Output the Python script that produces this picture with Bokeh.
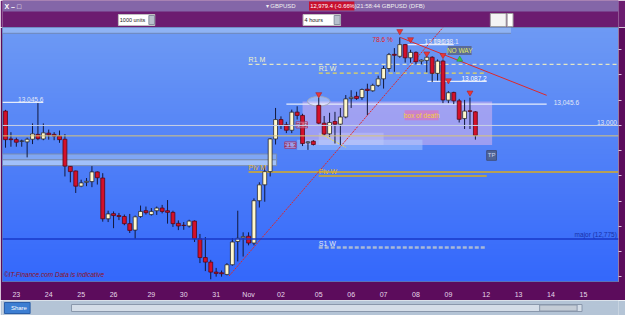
import numpy as np
from bokeh.plotting import figure
from bokeh.layouts import column
from bokeh.models import Range1d, Span, FixedTicker, CustomJSTickFormatter, ColumnDataSource
from bokeh.embed import file_html
from bokeh.resources import INLINE
from bokeh.core.properties import value

FONT = "Liberation Sans"

# ---------------- data (GBPUSD x10000, 4-hour candles) ----------------
OPEN = [13028.4, 12973.3, 12971.9, 12968.5, 12967.5, 12972.7, 12982.3, 12973.3, 12984.8, 12982.3,
        12979.0, 12972.7, 12918.9, 12909.9, 12879.8, 12887.4, 12888.8, 12908.0, 12895.9, 12815.2,
        12825.4, 12821.6, 12819.7, 12805.6, 12792.8, 12819.7, 12831.2, 12823.5, 12831.2, 12836.4,
        12831.2, 12827.9, 12806.2, 12802.4, 12801.0, 12810.6, 12775.5, 12738.4, 12729.4, 12709.6,
        12708.3, 12705.0, 12724.2, 12770.3, 12777.4, 12780.7, 12767.2, 12851.0, 12882.4, 12908.6,
        12973.3, 13011.7, 13001.5, 12990.5, 13026.4, 13019.9, 12965.6, 12968.8, 13039.9, 13004.6,
        12983.4, 13007.8, 13002.6, 13016.8, 13053.3, 13057.7, 13055.2, 13071.8, 13068.7, 13079.4,
        13092.3, 13112.8, 13140.9, 13137.0, 13160.1, 13134.0, 13144.7, 13127.4, 13128.8, 13135.1,
        13103.2, 13127.4, 13050.1, 13065.4, 13048.7, 13013.6, 13028.9, 13027.0]
HIGH = [13030.9, 12986.7, 12975.8, 12971.9, 12975.8, 13004.0, 13044.3, 13004.0, 12991.9, 12986.7,
        12990.0, 12982.9, 12919.5, 12910.5, 12892.6, 12895.9, 12919.5, 12909.0, 12905.5, 12831.2,
        12829.8, 12826.8, 12823.5, 12824.8, 12821.6, 12841.4, 12839.4, 12836.4, 12839.4, 12842.7,
        12852.3, 12831.2, 12812.0, 12808.7, 12813.3, 12812.0, 12785.1, 12778.8, 12733.8, 12717.9,
        12712.7, 12727.5, 12776.8, 12831.2, 12788.4, 12788.4, 12855.6, 12887.4, 12919.5, 12974.5,
        13034.7, 13018.0, 13007.2, 13031.4, 13038.0, 13023.2, 12968.5, 12970.8, 13055.2, 13018.8,
        13025.1, 13027.0, 13034.7, 13060.2, 13069.8, 13066.8, 13073.1, 13082.7, 13082.7, 13098.6,
        13117.8, 13143.6, 13153.2, 13174.3, 13161.4, 13149.9, 13146.6, 13130.7, 13138.4, 13137.0,
        13130.7, 13130.7, 13067.9, 13066.8, 13052.6, 13050.6, 13055.2, 13028.4]
LOW = [12956.0, 12957.9, 12957.9, 12957.9, 12936.8, 12963.1, 12970.8, 12970.8, 12971.9, 12970.8,
       12965.6, 12899.0, 12887.4, 12866.3, 12877.8, 12879.8, 12877.8, 12883.0, 12809.5, 12808.7,
       12796.6, 12812.6, 12802.4, 12787.0, 12775.5, 12817.2, 12823.5, 12821.6, 12822.9, 12826.0,
       12805.6, 12799.1, 12792.8, 12793.4, 12797.9, 12769.2, 12727.5, 12711.6, 12695.4, 12700.6,
       12700.6, 12703.1, 12722.3, 12730.8, 12740.4, 12762.6, 12762.6, 12837.5, 12849.0, 12899.0,
       12962.3, 12993.0, 12984.8, 12984.8, 13011.7, 12959.2, 12951.6, 12960.4, 13002.6, 12980.4,
       12977.1, 12964.2, 12961.2, 13014.2, 13034.7, 13050.6, 13050.6, 13020.7, 13066.8, 13076.4,
       13073.1, 13106.3, 13106.3, 13134.0, 13124.4, 13124.4, 13121.1, 13121.1, 13105.2, 13086.0,
       13089.0, 13044.3, 13044.3, 13042.4, 13005.9, 12993.0, 12993.0, 12971.9]
CLOSE = [12971.9, 12971.9, 12966.9, 12969.4, 12972.7, 12983.4, 12973.8, 12985.4, 12981.5, 12979.0,
         12971.9, 12919.5, 12908.6, 12879.8, 12886.3, 12889.4, 12908.0, 12896.5, 12815.2, 12824.8,
         12821.6, 12819.7, 12805.6, 12792.2, 12819.1, 12829.8, 12827.3, 12829.8, 12836.4, 12829.8,
         12827.9, 12805.6, 12801.0, 12801.8, 12810.6, 12775.5, 12738.4, 12729.4, 12709.6, 12707.0,
         12706.4, 12724.2, 12769.2, 12776.5, 12779.9, 12767.2, 12851.0, 12882.4, 12908.6, 12973.3,
         13011.7, 13000.7, 12990.5, 13026.4, 13019.9, 12964.2, 12967.5, 12962.3, 13004.6, 12982.9,
         13005.9, 13002.6, 13016.8, 13052.6, 13055.8, 13053.3, 13071.2, 13069.3, 13079.4, 13092.3,
         13112.8, 13140.3, 13139.0, 13160.1, 13134.0, 13144.7, 13126.3, 13129.4, 13135.1, 13103.2,
         13127.4, 13050.6, 13064.8, 13048.7, 13012.2, 13028.4, 13028.0, 12980.4]

DAY_TICKS = [2, 8, 14, 20, 27, 33, 39, 45, 51, 58, 64, 70, 76, 82, 89, 95, 101, 107]
DAY_LABELS = ["23", "24", "25", "26", "29", "30", "31", "Nov", "02", "05",
              "06", "07", "08", "09", "12", "13", "14", "15"]
PRICE_TICKS = [12700, 12750, 12800, 12850, 12900, 12950, 13000, 13050, 13100, 13150]

MONTH_LEVEL_NAMES = ["R1 M", "Piv M"]
MONTH_LEVEL_PRICES = [13121.1, 12907.9]
WEEK_LEVEL_NAMES = ["R1 W", "Piv W", "S1 W"]
WEEK_LEVEL_PRICES = [13103.8, 12899.7, 12758.2]
MAJOR_LEVEL = 12775.0
ROUND_LEVEL = 13000.0
LAST_PRICE = 12979.4
MARK_LEVELS = [13045.6, 13087.2, 13160.1]

ALERT_X = [58, 73, 75, 78, 81, 82, 86]
ALERT_Y = [13061.6, 13186.4, 13170.4, 13142.2, 13139.0, 13089.0, 13064.8]

# ---------------- main chart ----------------
X0, X1 = -0.56, 113.5
Y0, Y1 = 12691.0, 13194.0

p = figure(width=625, height=273, x_range=Range1d(X0, X1), y_range=Range1d(Y0, Y1),
           y_axis_location="right", output_backend="svg", toolbar_location=None,
           min_border_left=2, min_border_right=7, min_border_top=0, min_border_bottom=11)
p.border_fill_color = "#5c0c5c"
p.outline_line_color = "#6878a0"
p.grid.visible = False

# background gradient
n = 96
t = np.linspace(0.0, 1.0, n)[:, None]
c_bot = np.array([52, 104, 252])
c_top = np.array([110, 154, 244])
cols = (c_bot * (1 - t) + c_top * t).astype(np.uint8)
img = np.empty((n, 1), dtype=np.uint32)
view = img.view(dtype=np.uint8).reshape((n, 1, 4))
view[:, 0, 0] = cols[:, 0]
view[:, 0, 1] = cols[:, 1]
view[:, 0, 2] = cols[:, 2]
view[:, 0, 3] = 255
p.image_rgba(image=[img], x=X0, y=Y0, dw=X1 - X0, dh=Y1 - Y0)

# top strip of the chart window
p.quad(left=[X0], right=[93.6], bottom=[13182.5], top=[Y1], fill_color="#8fb3f4",
       line_color=None)
p.segment(x0=[X0], x1=[93.6], y0=[13182.5], y1=[13182.5], line_color="#7088b8", line_width=1)

# left band
p.quad(left=[X0], right=[50.2], bottom=[12932.0], top=[12943.5], fill_color="#8cb0f2",
       fill_alpha=0.8, line_color="#7a8cb0", line_width=1)
p.quad(left=[X0], right=[50.2], bottom=[12920.4], top=[12932.0], fill_color="#b0ccfa",
       fill_alpha=0.85, line_color="#7a8cb0", line_width=1)

# box of death area
p.quad(left=[55.0], right=[90.1], bottom=[12961.5], top=[13047.6], fill_color="#d9b4ee",
       fill_alpha=0.55, line_color=None)
p.quad(left=[58.0], right=[70.0], bottom=[12961.5], top=[12985.6], fill_color="#ffffff",
       fill_alpha=0.2, line_color=None)
p.quad(left=[54.0], right=[77.2], bottom=[12951.6], top=[12971.9], fill_color="#b4d2ff",
       fill_alpha=0.45, line_color=None)

# full-width horizontal levels
p.add_layout(Span(location=ROUND_LEVEL, dimension="width", line_color="#c8d0e4", line_width=1))
p.add_layout(Span(location=LAST_PRICE, dimension="width", line_color="#d8c47a", line_width=1))
p.add_layout(Span(location=MAJOR_LEVEL, dimension="width", line_color="#1838c8", line_width=1.5))

# pivot levels
p.segment(x0=[45.0], x1=[X1], y0=[MONTH_LEVEL_PRICES[0]], y1=[MONTH_LEVEL_PRICES[0]],
          line_color="#e4e6c4", line_width=1.2, line_dash="4 3")
p.segment(x0=[45.0], x1=[X1], y0=[MONTH_LEVEL_PRICES[1]], y1=[MONTH_LEVEL_PRICES[1]],
          line_color="#d8ac22", line_width=1.5)
p.segment(x0=[58.0], x1=[89.1], y0=[WEEK_LEVEL_PRICES[0]], y1=[WEEK_LEVEL_PRICES[0]],
          line_color="#e8d858", line_width=1.2, line_dash="4 3")
p.segment(x0=[58.0], x1=[89.1], y0=[WEEK_LEVEL_PRICES[1]], y1=[WEEK_LEVEL_PRICES[1]],
          line_color="#d8ac22", line_width=1.5)
p.segment(x0=[58.0], x1=[89.1], y0=[WEEK_LEVEL_PRICES[2]], y1=[WEEK_LEVEL_PRICES[2]],
          line_color="#a8b8d8", line_width=2.5, line_dash="4 2")

# marked price lines
p.segment(x0=[X0, 52.0, 78.1, 74.4], x1=[7.0, 100.2, 89.1, 83.0],
          y0=[MARK_LEVELS[0], 13042.4, MARK_LEVELS[1], MARK_LEVELS[2]],
          y1=[MARK_LEVELS[0], 13042.4, MARK_LEVELS[1], MARK_LEVELS[2]],
          line_color="#e6ecfa", line_width=1.2)

# trend lines
p.line(x=[41.4, 81.0], y=[12702.0, Y1], line_color="#e02828", line_width=1, line_dash="2 1")
p.line(x=[73.1, 100.2], y=[13174.3, 13059.7], line_color="#e02828", line_width=1)
p.line(x=[58.5, 63.0], y=[12982.9, 12956.6], line_color="#f0e040", line_width=1, line_dash="2 1")

# ellipse highlight
p.ellipse(x=[58], y=[13047.8], width=[4.2], height=[19.2], fill_color="#ffffff",
          fill_alpha=0.35, line_color="#a0a8c0", line_width=1)

# candles
idx = list(range(len(OPEN)))
up = [c >= o for o, c in zip(OPEN, CLOSE)]
src = ColumnDataSource(dict(
    x=idx, h=HIGH, l=LOW,
    top=[max(o, c) for o, c in zip(OPEN, CLOSE)],
    bottom=[min(o, c) for o, c in zip(OPEN, CLOSE)],
    fill=["#fff8cc" if u else "#d4102a" for u in up],
    line=["#2a2a30" if u else "#5a0814" for u in up],
))
p.segment(x0="x", y0="h", x1="x", y1="l", source=src, line_color="#12183c", line_width=1)
p.vbar(x="x", width=0.72, top="top", bottom="bottom", fill_color="fill", line_color="line",
       line_width=0.8, source=src)

# alert arrows
p.scatter(x=ALERT_X, y=ALERT_Y, marker="inverted_triangle", size=6, fill_color="#e83838",
          line_color="#b01818", line_width=0.5)
p.scatter(x=[84.1], y=[13130.7], marker="triangle", size=6, fill_color="#38c848",
          line_color="#208030", line_width=0.5)

# text boxes
p.quad(left=[73.9], right=[80.2], bottom=[13010.3], top=[13030.3], fill_color="#e070b8",
       fill_alpha=0.65, line_color=None)
p.quad(left=[81.9], right=[86.3], bottom=[13139.7], top=[13157.6], fill_color="#5a6a98",
       line_color=None)
p.quad(left=[89.1], right=[90.9], bottom=[12931.0], top=[12950.2], fill_color="#506496",
       line_color="#405080")
p.quad(left=[53.8, 51.7], right=[55.9, 53.8], bottom=[12995.0, 12954.8], top=[13007.3, 12967.5],
       fill_color="#f0c8e0", fill_alpha=0.45, line_color="#a83060", line_width=0.8)


def txt(x, y, s, color, size="7px", align="left", baseline="middle", style="normal"):
    p.text(x=[x], y=[y], text=[s], text_color=color, text_font=value(FONT),
           text_font_size=size, text_align=align, text_baseline=baseline,
           text_font_style=style)


txt(77.05, 13020.3, "box of death", "#f4d040", "6.5px", "center")
txt(84.1, 13148.6, "NO WAY", "#e0ea60", "6.5px", "center")
txt(90.0, 12940.6, "TP", "#c8d4f0", "6px", "center")
txt(54.85, 13001.1, "78.2", "#a01030", "6px", "center")
txt(52.75, 12961.2, "21.3", "#a01030", "6px", "center")

txt(45.0, MONTH_LEVEL_PRICES[0] + 2, MONTH_LEVEL_NAMES[0], "#f0f0c8", baseline="bottom")
txt(45.0, MONTH_LEVEL_PRICES[1] + 2, MONTH_LEVEL_NAMES[1], "#e8b820", baseline="bottom")
txt(58.0, WEEK_LEVEL_PRICES[0] + 2, WEEK_LEVEL_NAMES[0], "#f0f0c8", baseline="bottom")
txt(58.0, WEEK_LEVEL_PRICES[1] + 2, WEEK_LEVEL_NAMES[1], "#e8b820", baseline="bottom")
txt(58.0, WEEK_LEVEL_PRICES[2] + 2, WEEK_LEVEL_NAMES[2], "#e4eaf4", baseline="bottom")

txt(7.0, MARK_LEVELS[0] + 1.5, "13,045.6", "#e2e8f6", "6.5px", "right", "bottom")
txt(101.5, 13045.6, "13,045.6", "#e2e8f6", "6.5px", "left", "middle")
txt(89.1, MARK_LEVELS[1] + 1.5, "13,087.2", "#ffffff", "6.5px", "right", "bottom")
txt(77.6, MARK_LEVELS[2] + 1.5, "13,096.1", "#e2e8f6", "6.5px", "left", "bottom")
txt(79.2, MARK_LEVELS[2] + 1.5, "13,098.1", "#e2e8f6", "6.5px", "left", "bottom")
txt(113.2, ROUND_LEVEL + 1.5, "13,000", "#e2e8f6", "6.5px", "right", "bottom")
txt(113.2, MAJOR_LEVEL + 1.5, "major (12,775)", "#1830a8", "6.5px", "right", "bottom")
txt(71.7, 13170.4, "78.6 %", "#e82020", "6.5px", "right", "middle")
txt(-0.3, 12704.5, "\u00a9IT-Finance.com  Data is indicative", "#901020", "6.5px",
    "left", "middle", "italic")

# axes
xa = p.xaxis[0]
xa.ticker = FixedTicker(ticks=DAY_TICKS)
xa.major_label_overrides = {t: l for t, l in zip(DAY_TICKS, DAY_LABELS)}
xa.major_label_text_font = FONT
xa.major_label_text_font_size = "7px"
xa.major_label_text_color = "#e6d8ea"
xa.axis_line_color = None
xa.major_tick_line_color = None
xa.minor_tick_line_color = None
xa.major_label_standoff = 3

ya = p.yaxis[0]
ya.ticker = FixedTicker(ticks=PRICE_TICKS)
ya.formatter = CustomJSTickFormatter(code="return ''")
ya.axis_line_color = "#9a7aa0"
ya.major_tick_line_color = "#d8c0de"
ya.major_tick_out = 3
ya.major_tick_in = 0
ya.minor_tick_line_color = None
ya.major_label_standoff = 0

# ---------------- top bar ----------------
top = figure(width=625, height=27, x_range=Range1d(0, 625), y_range=Range1d(27, 0),
             output_backend="svg", toolbar_location=None, min_border=0)
top.axis.visible = False
top.grid.visible = False
top.outline_line_color = None
top.background_fill_color = "#6c1c70"
top.border_fill_color = "#6c1c70"
top.quad(left=[0], right=[625], top=[0], bottom=[11], fill_color="#8466a8", line_color=None)
top.quad(left=[117.6, 305.0], right=[154.5, 343.0], top=[14, 14], bottom=[25, 25],
         fill_color="#ffffff", line_color="#c0c0c0")
top.quad(left=[148.5, 336.5], right=[154.2, 342.6], top=[15, 15], bottom=[24, 24],
         fill_color="#b8c0cc", line_color="#8890a0")
top.quad(left=[311.0], right=[357.0], top=[1], bottom=[10], fill_color="#c8102e",
         line_color=None)
top.quad(left=[495.0], right=[511.0], top=[13], bottom=[26], fill_color="#f4f4f4",
         line_color="#a0a0a0")
top.quad(left=[512.0], right=[518.0], top=[13], bottom=[26], fill_color="#ffffff",
         line_color="#a0a0a0")


def ttxt(x, y, s, color, size="6.5px", style="normal"):
    top.text(x=[x], y=[y], text=[s], text_color=color, text_font=value(FONT),
             text_font_size=size, text_align="left", text_baseline="middle",
             text_font_style=style)


ttxt(2, 5.5, "X \u2013 \u25a1", "#ffffff", "7px", "bold")
ttxt(267, 5.5, "\u25be GBPUSD", "#f0f0f0", "6px")
ttxt(312.3, 5.5, "12,979.4 (-0.66%)", "#ffffff", "5.8px")
ttxt(359.5, 5.5, "21:58:44 GBPUSD (DFB)", "#f0f0f0", "6px")
ttxt(119, 19.5, "1000 units", "#202020", "5.5px")
ttxt(306.5, 19.5, "4 hours", "#202020", "5.5px")

# ---------------- bottom tool strip ----------------
bot = figure(width=625, height=15, x_range=Range1d(0, 625), y_range=Range1d(15, 0),
             output_backend="svg", toolbar_location=None, min_border=0)
bot.axis.visible = False
bot.grid.visible = False
bot.outline_line_color = None
bot.background_fill_color = "#b4c4d6"
bot.border_fill_color = "#b4c4d6"
bot.quad(left=[2], right=[28], top=[2], bottom=[13], fill_color="#3c7ed2", line_color="#2a5ea8")
bot.quad(left=[70], right=[588], top=[4], bottom=[11], fill_color="#d4dde8", line_color="#8a98ac")
bot.quad(left=[545], right=[583], top=[4.5], bottom=[10.5], fill_color="#c4ccd6",
         line_color="#8a98ac")
bot.text(x=[8.5], y=[7.5], text=["Share"], text_color="#ffffff", text_font=value(FONT),
         text_font_size="6px", text_baseline="middle")

layout = column(top, p, bot, spacing=0)
open("out.html", "w").write(file_html(layout, INLINE))
